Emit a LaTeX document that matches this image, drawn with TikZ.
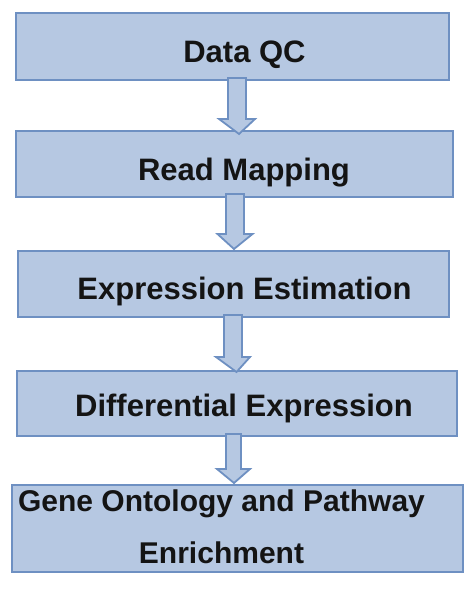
\documentclass[tikz,border=0pt]{standalone}
\usepackage{fontspec}
\setmainfont{Liberation Sans}
\usetikzlibrary{calc}
\definecolor{boxfill}{HTML}{B6C8E2}
\definecolor{boxline}{HTML}{6E90C2}
\tikzset{
  box/.style={draw=boxline, fill=boxfill, line width=2pt, rectangle, inner sep=0pt},
  lbl/.style={anchor=base, inner sep=0pt, font=\fontsize{31}{36}\selectfont\bfseries, text=black!92},
  lblsmall/.style={lbl, font=\fontsize{30}{36}\selectfont\bfseries},
  flowarrow/.style={draw=boxline, fill=boxfill, line width=1.8pt, line join=miter}
}
\begin{document}
\begin{tikzpicture}[x=1pt,y=-1pt]
\useasboundingbox[fill=white] (0,0) rectangle (474,589);
% boxes
\node[box, minimum width=433pt, minimum height=67pt] (a) at (232.5,46.5) {};
\node[box, minimum width=437pt, minimum height=66pt] (b) at (234.5,164) {};
\node[box, minimum width=431pt, minimum height=66pt] (c) at (233.5,284) {};
\node[box, minimum width=440pt, minimum height=65pt] (d) at (237,403.5) {};
\node[box, minimum width=451pt, minimum height=87pt] (e) at (237.5,528.5) {};
% labels
\node[lbl] (at) at (244.5,62) {Data QC};
\node[lbl] (bt) at (244,180) {Read Mapping};
\node[lbl] (ct) at (244.5,299) {Expression Estimation};
\node[lbl] (dt) at (244,416) {Differential Expression};
\node[lblsmall] (et1) at (221.5,511) {Gene Ontology and Pathway};
\node[lblsmall] (et2) at (221.5,563) {Enrichment};
% arrows
\draw[flowarrow] let \p1=($(a.south)+(4.5,-3)$), \p2=($(b.north)+(4.5,4)$) in
  (\x1-9pt,\y1) -- (\x1+9pt,\y1) -- (\x1+9pt,\y2+15pt) -- (\x1+18pt,\y2+15pt) -- (\x2,\y2)
  -- (\x1-18pt,\y2+15pt) -- (\x1-9pt,\y2+15pt) -- cycle;
\draw[flowarrow] let \p1=($(b.south)+(0.5,-4)$), \p2=($(c.north)+(0.5,-1)$) in
  (\x1-9pt,\y1) -- (\x1+9pt,\y1) -- (\x1+9pt,\y2+15pt) -- (\x1+17.5pt,\y2+15pt) -- (\x2,\y2)
  -- (\x1-17.5pt,\y2+15pt) -- (\x1-9pt,\y2+15pt) -- cycle;
\draw[flowarrow] let \p1=($(c.south)+(-0.5,-3)$), \p2=($(d.north)+(-0.5,2)$) in
  (\x1-9pt,\y1) -- (\x1+9pt,\y1) -- (\x1+9pt,\y2+15pt) -- (\x1+17pt,\y2+15pt) -- (\x2,\y2)
  -- (\x1-17pt,\y2+15pt) -- (\x1-9pt,\y2+15pt) -- cycle;
\draw[flowarrow] let \p1=($(d.south)+(-3.5,-3)$), \p2=($(e.north)+(-3.5,-1)$) in
  (\x1-7.5pt,\y1) -- (\x1+7.5pt,\y1) -- (\x1+7.5pt,\y2+14pt) -- (\x1+16.5pt,\y2+14pt) -- (\x2,\y2)
  -- (\x1-16.5pt,\y2+14pt) -- (\x1-7.5pt,\y2+14pt) -- cycle;
\end{tikzpicture}
\end{document}
